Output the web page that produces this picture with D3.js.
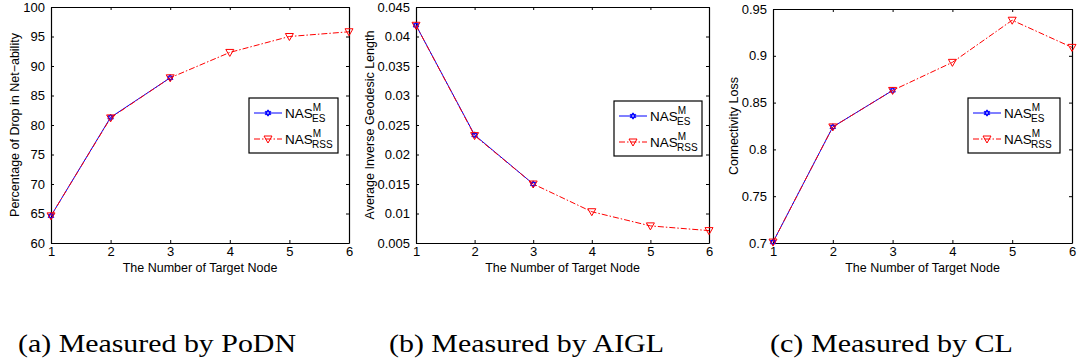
<!DOCTYPE html>
<html><head><meta charset="utf-8">
<script src="https://cdn.jsdelivr.net/npm/d3@7"></script>
<style>body{margin:0;background:#fff}svg{display:block}</style>
</head><body>
<script>
const xNodes = [1,2,3,4,5,6];
const xTicks = [1,2,3,4,5,6];
// Panel (a) PoDN
const podnES = [64.6, 81.3, 88.0];
const podnRSS = [64.6, 81.2, 88.0, 92.3, 95.0, 95.8];
const podnTicks = [60,65,70,75,80,85,90,95,100];
// Panel (b) AIGL
const aiglES = [0.0419, 0.0233, 0.0150];
const aiglRSS = [0.0419, 0.0232, 0.0150, 0.0103, 0.0079, 0.0071];
const aiglTicks = [0.005,0.01,0.015,0.02,0.025,0.03,0.035,0.04,0.045];
const aiglTickLabels = ["0.005","0.01","0.015","0.02","0.025","0.03","0.035","0.04","0.045"];
// Panel (c) CL
const clES = [0.701, 0.824, 0.863];
const clRSS = [0.701, 0.824, 0.863, 0.893, 0.938, 0.909];
const clTicks = [0.7,0.75,0.8,0.85,0.9,0.95];
const clTickLabels = ["0.7","0.75","0.8","0.85","0.9","0.95"];

const yLabels = ["Percentage of Drop in Net\u2212ability","Average Inverse Geodesic Length","Connectivity Loss"];
const xLabel = "The Number of Target Node";
const captions = ["(a) Measured by PoDN","(b) Measured by AIGL","(c) Measured by CL"];

const W=1083,H=362;
const svg=d3.select("body").append("svg").attr("width",W).attr("height",H);

const panels=[
 {l:51,r:349,t:7,b:243,dom:[60,100],ticks:podnTicks,labels:podnTicks.map(String),es:podnES,rss:podnRSS,yl:yLabels[0],ylx:15,leg:[249,98,89,55],cap:[18,352,278]},
 {l:416,r:709,t:7,b:243,dom:[0.005,0.045],ticks:aiglTicks,labels:aiglTickLabels,es:aiglES,rss:aiglRSS,yl:yLabels[1],ylx:370,leg:[614,101,88,55],cap:[389,352,275]},
 {l:773,r:1072,t:9,b:243,dom:[0.7,0.95],ticks:clTicks,labels:clTickLabels,es:clES,rss:clRSS,yl:yLabels[2],ylx:734,leg:[968,98,92,55],cap:[770,352,243]}
];

const font="'Liberation Sans', Arial, sans-serif";
function tri(g,x,y){
  g.append("path").attr("d",`M${x-4},${y-3}L${x+4},${y-3}L${x},${y+4}Z`)
   .attr("fill","none").attr("stroke","#f00").attr("stroke-width",1);
}
function hexa(g,x,y){
  const r=3.2;
  const p1=[0,1,2].map(i=>[x+r*Math.sin(i*2*Math.PI/3),y-r*Math.cos(i*2*Math.PI/3)]);
  const p2=[0,1,2].map(i=>[x-r*Math.sin(i*2*Math.PI/3),y+r*Math.cos(i*2*Math.PI/3)]);
  [p1,p2].forEach(p=>g.append("path").attr("d","M"+p.map(q=>q.join(",")).join("L")+"Z")
    .attr("fill","none").attr("stroke","#00f").attr("stroke-width",1));
}

panels.forEach((P,pi)=>{
  const g=svg.append("g");
  const x=d3.scaleLinear().domain([1,6]).range([P.l,P.r]);
  const y=d3.scaleLinear().domain(P.dom).range([P.b,P.t]);
  const axB=d3.axisBottom(x).tickValues(xTicks).tickSizeInner(-3).tickSizeOuter(0).tickPadding(6).tickFormat(d3.format("d"));
  const axT=d3.axisTop(x).tickValues(xTicks).tickSizeInner(-3).tickSizeOuter(0).tickFormat("");
  const axL=d3.axisLeft(y).tickValues(P.ticks).tickSizeInner(-3).tickSizeOuter(0).tickPadding(6).tickFormat((d,i)=>P.labels[i]);
  const axR=d3.axisRight(y).tickValues(P.ticks).tickSizeInner(-3).tickSizeOuter(0).tickFormat("");
  const gb=g.append("g").attr("transform",`translate(0,${P.b})`).call(axB);
  const gt=g.append("g").attr("transform",`translate(0,${P.t})`).call(axT);
  const gl=g.append("g").attr("transform",`translate(${P.l},0)`).call(axL);
  const gr=g.append("g").attr("transform",`translate(${P.r},0)`).call(axR);
  [gb,gt,gl,gr].forEach(a=>{
    a.select(".domain").attr("stroke","#000").attr("stroke-width",1.2);
    a.selectAll(".tick line").attr("stroke","#000");
    a.selectAll("text").attr("font-family",font).attr("font-size",13).attr("fill","#000");
  });
  gb.selectAll("text").attr("dy","0.55em");
  const line=d3.line().x((d,i)=>x(xNodes[i])).y(d=>y(d));
  g.append("path").attr("d",line(P.es)).attr("fill","none").attr("stroke","#00f").attr("stroke-width",1);
  P.es.forEach((v,i)=>hexa(g,x(xNodes[i]),y(v)));
  g.append("path").attr("d",line(P.rss)).attr("fill","none").attr("stroke","#f00").attr("stroke-width",1).attr("stroke-dasharray","6,2,1.5,2");
  P.rss.forEach((v,i)=>tri(g,x(xNodes[i]),y(v)));
  g.append("text").attr("x",(P.l+P.r)/2).attr("y",272).attr("text-anchor","middle")
   .attr("font-family",font).attr("font-size",12.5).text(xLabel);
  g.append("text").attr("transform",`translate(${P.ylx+4},${(P.t+P.b)/2}) rotate(-90)`).attr("text-anchor","middle")
   .attr("font-family",font).attr("font-size",12.5).text(P.yl);
  const [lx,ly,lw,lh]=P.leg;
  g.append("rect").attr("x",lx).attr("y",ly).attr("width",lw).attr("height",lh).attr("fill","#fff").attr("stroke","#000").attr("stroke-width",1.2);
  const rows=[{c:"#00f",sub:"ES",dash:null,dy:15},{c:"#f00",sub:"RSS",dash:"6,2,1.5,2",dy:41}];
  rows.forEach((R,ri)=>{
    const yy=ly+R.dy;
    const ln=g.append("line").attr("x1",lx+5).attr("x2",lx+33).attr("y1",yy).attr("y2",yy).attr("stroke",R.c).attr("stroke-width",1);
    if(R.dash) ln.attr("stroke-dasharray",R.dash);
    if(ri===0) hexa(g,lx+19,yy); else tri(g,lx+19,yy);
    const t=g.append("text").attr("x",lx+36).attr("y",yy+5).attr("font-family",font).attr("font-size",13.5);
    t.append("tspan").text("NAS");
    t.append("tspan").attr("font-size",10).attr("dy",-7).text("M");
    t.append("tspan").attr("font-size",10).attr("dx",-9).attr("dy",11).text(R.sub);
  });
  svg.append("text").attr("x",P.cap[0]).attr("y",P.cap[1]).attr("font-family","'Liberation Serif','Times New Roman',serif")
   .attr("font-size",26).attr("textLength",P.cap[2]).attr("lengthAdjust","spacingAndGlyphs").text(captions[pi]);
});
</script>
</body></html>
